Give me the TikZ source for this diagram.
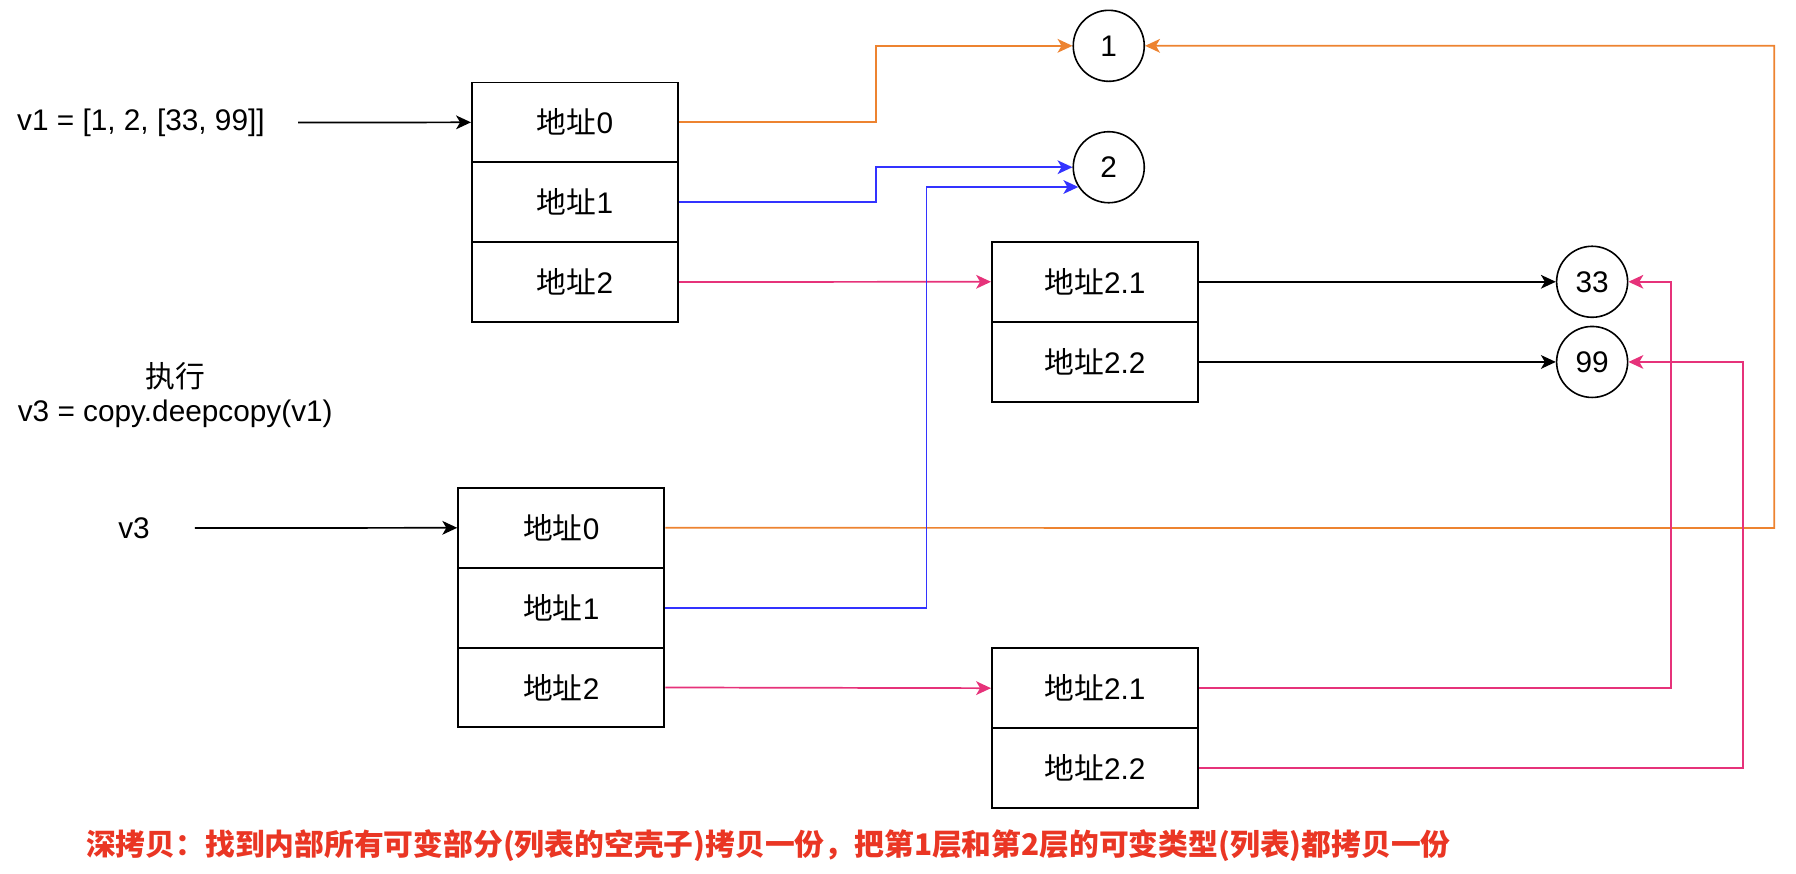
\documentclass[tikz,border=0pt]{standalone}
\usepackage{fontspec}
\setmainfont{Liberation Sans}
\newfontfamily\cjk{Noto Sans CJK SC}
\usetikzlibrary{arrows.meta}
\definecolor{corange}{RGB}{237,131,48}
\definecolor{cblue}{RGB}{51,51,255}
\definecolor{cpink}{RGB}{230,50,122}
\definecolor{cred}{RGB}{234,54,36}
\begin{document}
\begin{tikzpicture}[x=1pt,y=-1pt,
  every node/.style={font=\fontsize{26}{32}\selectfont, inner sep=0pt},
  cell/.style={draw=black, line width=1.6pt, minimum width=180pt, minimum height=69.5pt, anchor=center},
  val/.style={draw=black, line width=1.4pt, circle, minimum size=62pt},
  lbl/.style={align=center},
  conn/.style={line width=1.5pt, -{Stealth[length=13pt,width=12pt,inset=3.5pt]}},
]
\useasboundingbox (0,0) rectangle (1568,763);
% v1 list
\node[lbl, minimum width=274pt] (v1t) at (123,107) {v1 = [1, 2, [33, 99]]};
\node[cell] (a0) at (502,106.8) {{\cjk 地址}0};
\node[cell] (a1) at (502,176.5) {{\cjk 地址}1};
\node[cell] (a2) at (502,246.2) {{\cjk 地址}2};
% inner list of v1
\node[cell] (b1) at (956,246) {{\cjk 地址}2.1};
\node[cell] (b2) at (956,316) {{\cjk 地址}2.2};
% values
\node[val] (c1) at (968,40) {1};
\node[val] (c2) at (968,146) {2};
\node[val] (c33) at (1390,246) {33};
\node[val] (c99) at (1390,316) {99};
% middle text
\node[lbl] (exec) at (153,345) {{\cjk 执行}\\[-2pt]v3 = copy.deepcopy(v1)};
% v3 list
\node[lbl, minimum width=106pt] (v3t) at (117,461) {v3};
\node[cell] (d0) at (490,460.8) {{\cjk 地址}0};
\node[cell] (d1) at (490,530.5) {{\cjk 地址}1};
\node[cell] (d2) at (490,600.2) {{\cjk 地址}2};
\node[cell] (e1) at (956,600.8) {{\cjk 地址}2.1};
\node[cell] (e2) at (956,670.5) {{\cjk 地址}2.2};
% bottom note
\node[anchor=west, text=cred, font=\fontsize{26}{32}\selectfont\cjk\bfseries] (note) at (75,738)
  {深拷贝：找到内部所有可变部分(列表的空壳子)拷贝一份，把第1层和第2层的可变类型(列表)都拷贝一份};
% connectors
\coordinate (oR) at (1549,461);
\draw[conn, black] (v1t.east) -- (a0.west);
\draw[conn, black] (v3t.east) -- (d0.west);
\draw[conn, corange] (a0.east) -- ++(172,0) |- (c1.west);
\draw[conn, cblue] (a1.east) -- ++(172,0) |- (c2.west);
\draw[conn, cpink] (a2.east) -- (b1.west);
\draw[conn, black] (b1.east) -- (c33.west);
\draw[conn, black] (b2.east) -- (c99.west);
\draw[conn, corange] (d0.east) -- (oR) |- (c1.east);
\draw[conn, cblue] (d1.east) -- ++(228,0) |- (c2.213);
\draw[conn, cpink] (d2.east) -- (e1.west);
\draw[conn, cpink] (e1.east) -- ++(412,0) |- (c33.east);
\draw[conn, cpink] (e2.east) -- ++(475,0) |- (c99.east);
\end{tikzpicture}
\end{document}
